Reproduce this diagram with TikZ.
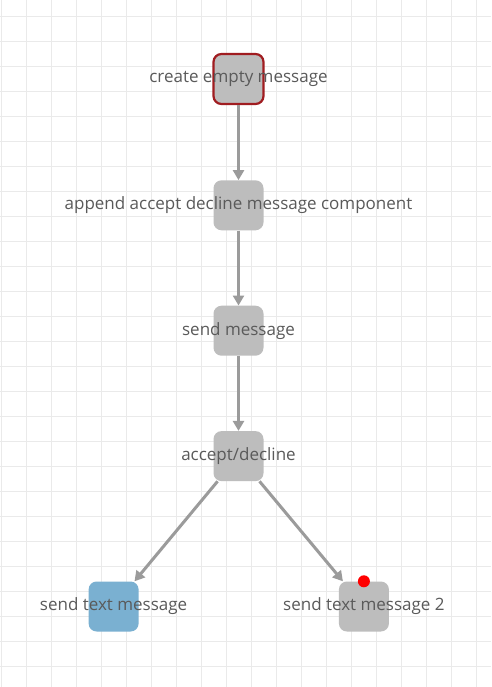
\documentclass[tikz,border=0pt]{standalone}
\usepackage{fontspec}
\setmainfont{Open Sans}
\usepackage{tikz}
\usetikzlibrary{positioning}
\usetikzlibrary{arrows.meta}

\definecolor{gridgray}{RGB}{234,234,234}
\definecolor{boxgray}{RGB}{189,189,189}
\definecolor{edgegray}{RGB}{155,155,155}
\definecolor{textgray}{RGB}{90,90,90}
\definecolor{startred}{RGB}{160,28,32}
\definecolor{endblue}{RGB}{122,176,209}

\begin{document}
\begin{tikzpicture}[x=1pt, y=-1pt]

\def\BoxSize{50pt}
\def\Spacing{75pt}
\def\BranchDrop{100pt}

% Styles
\tikzstyle{gridline} =
	[gridgray, line width=1pt]

\tikzstyle{task} =
	[rectangle, rounded corners=8pt, fill=boxgray, minimum size=\BoxSize, inner sep=0pt]

\tikzstyle{caption} =
	[text=textgray, font=\fontsize{17}{20}\selectfont]

\tikzstyle{flow} =
	[edgegray, line width=3pt, -{Triangle[length=10pt, width=11pt]}]

% Background
\useasboundingbox (0,0) rectangle (491,687);
\fill[white] (0,0) rectangle (491,687);
\foreach \gx in {0,...,19}
	\draw[gridline] (1.7+25*\gx, 0) -- (1.7+25*\gx, 687);
\foreach \gy in {0,...,26}
	\draw[gridline] (0, 16.7+25*\gy) -- (491, 16.7+25*\gy);

% Tasks
\node (Create) at (238.5, 79)
	[task, draw=startred, line width=2.2pt,
	 label={[caption]center:create empty message}] {};
\node (Append) [task, below=\Spacing of Create,
	label={[caption]center:append accept decline message component}] {};
\node (Send) [task, below=\Spacing of Append,
	label={[caption]center:send message}] {};
\node (Choice) [task, below=\Spacing of Send,
	label={[caption]center:accept/decline}] {};
\node (SendText) [task, fill=endblue, below left=\BranchDrop and 74.5pt of Choice,
	label={[caption]center:send text message}] {};
\node (SendTextTwo) [task, below right=\BranchDrop and 75pt of Choice,
	label={[caption]center:send text message 2}] {};
\node (Marker) at (SendTextTwo.north)
	[circle, fill=red, minimum size=12pt, inner sep=0pt] {};

% Edges
\draw[flow] (Create) -- (Append);
\draw[flow] (Append) -- (Send);
\draw[flow] (Send) -- (Choice);
\draw[flow] (Choice) -- (SendText);
\draw[flow] (Choice) -- (SendTextTwo);

\end{tikzpicture}
\end{document}
